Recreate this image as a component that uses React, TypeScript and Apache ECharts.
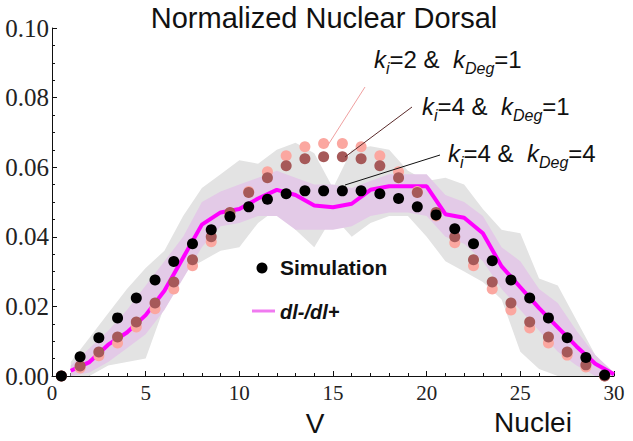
import React, { useEffect, useRef } from "react";
import * as echarts from "echarts";

// Nucleus positions (x of each dot)
const nucleiX = [0.5, 1.5, 2.5, 3.5, 4.5, 5.5, 6.5, 7.5, 8.5, 9.5, 10.5, 11.5, 12.5, 13.5, 14.5, 15.5, 16.5, 17.5, 18.5, 19.5, 20.5, 21.5, 22.5, 23.5, 24.5, 25.5, 26.5, 27.5, 28.5, 29.5];
// Simulation ki=4 & kDeg=4 (black)
const simK4D4 = [0.0, 0.0055, 0.011, 0.0167, 0.0224, 0.0276, 0.0329, 0.038, 0.042, 0.0458, 0.0486, 0.0508, 0.0524, 0.0532, 0.0532, 0.0532, 0.0532, 0.0524, 0.051, 0.0486, 0.0463, 0.0423, 0.038, 0.0331, 0.0276, 0.0224, 0.0167, 0.011, 0.0053, 0.0003];
// ki=4 & kDeg=1 (dark rose)
const simK4D1 = [0.0, 0.0029, 0.0069, 0.0112, 0.0155, 0.021, 0.027, 0.0334, 0.04, 0.047, 0.0527, 0.057, 0.0604, 0.0624, 0.063, 0.063, 0.0624, 0.0604, 0.057, 0.0527, 0.047, 0.04, 0.0334, 0.027, 0.021, 0.0155, 0.0112, 0.0069, 0.0032, 0.0];
// ki=2 & kDeg=1 (light pink)
const simK2D1 = [0.0, 0.0023, 0.0058, 0.0095, 0.0141, 0.0193, 0.025, 0.0317, 0.0386, 0.046, 0.053, 0.0587, 0.0633, 0.0659, 0.0668, 0.0668, 0.0659, 0.0633, 0.0587, 0.053, 0.046, 0.0383, 0.0317, 0.025, 0.019, 0.0138, 0.0095, 0.006, 0.0026, 0.0];

// Measured dl-/dl+ profile and its bands
const profileX = [1, 2, 3, 4, 5, 6, 7, 8, 9, 10, 11, 12, 13, 14, 15, 16, 17, 18, 19, 20, 21, 22, 23, 24, 25, 26, 27, 28, 29, 30];
const dlRatio = [0.0015, 0.004, 0.009, 0.0125, 0.0175, 0.0245, 0.034, 0.0435, 0.047, 0.048, 0.051, 0.0535, 0.052, 0.049, 0.0485, 0.0495, 0.0535, 0.0545, 0.0545, 0.0545, 0.0465, 0.0455, 0.041, 0.0315, 0.0255, 0.0195, 0.014, 0.0085, 0.0035, 0.0005];
const grayUpper = [0.004, 0.011, 0.018, 0.025, 0.031, 0.036, 0.046, 0.054, 0.058, 0.062, 0.061, 0.065, 0.067, 0.064, 0.054, 0.065, 0.066, 0.065, 0.059, 0.056, 0.057, 0.055, 0.048, 0.042, 0.041, 0.028, 0.026, 0.016, 0.006, 0.0];
const grayLower = [0.0, 0.0, 0.003, 0.004, 0.005, 0.02, 0.03, 0.033, 0.036, 0.037, 0.044, 0.048, 0.042, 0.037, 0.046, 0.04, 0.044, 0.046, 0.046, 0.04, 0.033, 0.03, 0.027, 0.022, 0.007, 0.002, 0.0, 0.0, 0.0, 0.0];
const purpleUpper = [0.003, 0.008, 0.013, 0.019, 0.026, 0.033, 0.04, 0.05, 0.053, 0.055, 0.057, 0.059, 0.057, 0.055, 0.055, 0.054, 0.056, 0.058, 0.058, 0.058, 0.052, 0.05, 0.046, 0.037, 0.033, 0.025, 0.021, 0.013, 0.006, 0.001];
const purpleLower = [0.0, 0.001, 0.004, 0.008, 0.012, 0.019, 0.028, 0.037, 0.043, 0.044, 0.046, 0.046, 0.042, 0.042, 0.042, 0.043, 0.046, 0.047, 0.047, 0.046, 0.04, 0.038, 0.033, 0.025, 0.019, 0.013, 0.007, 0.003, 0.0, 0.0];

const annotations = [
  { ki: "2", kd: "1" },
  { ki: "4", kd: "1" },
  { ki: "4", kd: "4" },
];

const SANS = "'Liberation Sans', Arial, sans-serif";
const SERIF = "'Liberation Serif', 'Times New Roman', serif";

function pairs(xs: number[], ys: number[]) {
  return xs.map((x, i) => [x, ys[i]]);
}

function bandSeries(upper: number[], lower: number[], fill: string, z: number) {
  return {
    type: "custom",
    silent: true,
    z,
    clip: false,
    data: profileX.map((x, i) => [x, upper[i], lower[i]]),
    encode: { x: 0, y: [1, 2] },
    renderItem: (params: any, api: any) => {
      if (params.dataIndex !== 0) return { type: "group", children: [] };
      const pts: number[][] = [];
      for (let i = 0; i < profileX.length; i++) pts.push(api.coord([profileX[i], upper[i]]));
      for (let i = profileX.length - 1; i >= 0; i--) pts.push(api.coord([profileX[i], lower[i]]));
      return { type: "polygon", shape: { points: pts }, style: { fill, stroke: "none" } };
    },
  };
}

export default function App() {
  const ref = useRef<HTMLDivElement>(null);

  useEffect(() => {
    document.body.style.margin = "0";
    if (!ref.current) return;
    const chart = echarts.init(ref.current, undefined, { renderer: "svg" });

    const rich = {
      k: { fontSize: 24, fontStyle: "italic", fontFamily: SANS, lineHeight: 34, verticalAlign: "middle", fill: "#111", color: "#111" },
      s: { fontSize: 16, fontStyle: "italic", fontFamily: SANS, lineHeight: 16, verticalAlign: "bottom", fill: "#111", color: "#111" },
      t: { fontSize: 24, fontFamily: SANS, lineHeight: 34, verticalAlign: "middle", fill: "#111", color: "#111" },
    };
    const annotText = (a: { ki: string; kd: string }) =>
      `{k|k}{s|i}{t|=${a.ki} &  }{k|k}{s|Deg}{t|=${a.kd}}`;
    const annotPos = [
      [374, 59],
      [422, 106],
      [448, 153],
    ];

    const textEl = (x: number, y: number, text: string, extra: any = {}) => ({
      type: "text",
      x,
      y,
      z: 100,
      style: {
        text,
        fill: "#111",
        fontFamily: SANS,
        fontSize: 28,
        align: "left",
        verticalAlign: "middle",
        textAlign: "left",
        textVerticalAlign: "middle",
        ...extra,
      },
    });

    const option: any = {
      animation: false,
      grid: { left: 52, right: 19, top: 28, bottom: 65 },
      xAxis: {
        type: "value",
        min: 0,
        max: 30,
        interval: 5,
        axisLine: { show: true, lineStyle: { color: "#111", width: 1 } },
        axisTick: { show: true, inside: true, length: 5, lineStyle: { color: "#111" } },
        minorTick: { show: true, splitNumber: 5, length: 3, lineStyle: { color: "#111" } },
        splitLine: { show: false },
        axisLabel: { fontFamily: SERIF, fontSize: 21, color: "#222", margin: 6 },
      },
      yAxis: {
        type: "value",
        min: 0,
        max: 0.1,
        interval: 0.02,
        axisLine: { show: true, lineStyle: { color: "#111", width: 1 } },
        axisTick: { show: true, inside: true, length: 5, lineStyle: { color: "#111" } },
        minorTick: { show: true, splitNumber: 4, length: 3, lineStyle: { color: "#111" } },
        splitLine: { show: false },
        axisLabel: {
          fontFamily: SERIF,
          fontSize: 25,
          color: "#222",
          margin: 3,
          formatter: (v: number) => v.toFixed(2),
        },
      },
      series: [
        bandSeries(grayUpper, grayLower, "#e3e3e3", 1),
        bandSeries(purpleUpper, purpleLower, "#e3cae7", 2),
        {
          type: "line",
          name: "dl-/dl+",
          data: pairs(profileX, dlRatio),
          showSymbol: false,
          lineStyle: { color: "#ff00ff", width: 4 },
          z: 3,
        },
        {
          type: "scatter",
          name: "ki=2 kDeg=1",
          data: pairs(nucleiX, simK2D1),
          symbolSize: 11,
          itemStyle: { color: "#fba7a0", opacity: 1 },
          clip: false,
          z: 4,
        },
        {
          type: "scatter",
          name: "ki=4 kDeg=1",
          data: pairs(nucleiX, simK4D1),
          symbolSize: 11,
          itemStyle: { color: "#a65959", opacity: 1 },
          clip: false,
          z: 5,
        },
        {
          type: "scatter",
          name: "Simulation",
          data: pairs(nucleiX, simK4D4),
          symbolSize: 11,
          itemStyle: { color: "#000000", opacity: 1 },
          clip: false,
          z: 6,
        },
      ],
      graphic: [
        textEl(324, 18, "Normalized Nuclear Dorsal", { fontSize: 29, align: "center", textAlign: "center" }),
        textEl(315, 423, "V", { align: "center", textAlign: "center" }),
        textEl(533, 422, "Nuclei", { align: "center", textAlign: "center" }),
        // legend
        { type: "circle", z: 100, shape: { cx: 262, cy: 268, r: 5.5 }, style: { fill: "#000" } },
        textEl(280, 267, "Simulation", { fontSize: 21, fontWeight: "bold" }),
        { type: "line", z: 100, shape: { x1: 252, y1: 311, x2: 275, y2: 311 }, style: { stroke: "#f07af0", lineWidth: 3 } },
        textEl(280, 312, "dl-/dl+", { fontSize: 20, fontWeight: "bold", fontStyle: "italic" }),
        // leader lines
        { type: "line", z: 90, shape: { x1: 365, y1: 87, x2: 328, y2: 145 }, style: { stroke: "#f0a0a0", lineWidth: 1 } },
        { type: "line", z: 90, shape: { x1: 412, y1: 107, x2: 345, y2: 157 }, style: { stroke: "#5a2a2a", lineWidth: 1 } },
        { type: "line", z: 90, shape: { x1: 440, y1: 155, x2: 345, y2: 185 }, style: { stroke: "#111", lineWidth: 1 } },
        ...annotations.map((a, i) => ({
          type: "text",
          x: annotPos[i][0],
          y: annotPos[i][1],
          z: 100,
          style: {
            text: annotText(a),
            rich,
            fill: "#111",
            align: "left",
            verticalAlign: "middle",
            textAlign: "left",
            textVerticalAlign: "middle",
          },
        })),
      ],
    };

    chart.setOption(option);
    return () => chart.dispose();
  }, []);

  return <div ref={ref} style={{ width: 633, height: 441 }} />;
}
